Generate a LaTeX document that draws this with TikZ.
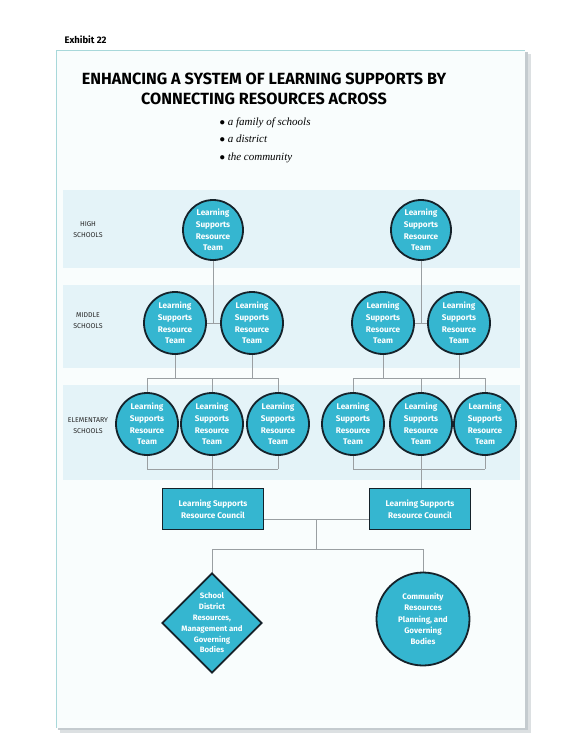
\documentclass[tikz,border=0pt]{standalone}
\usepackage{fontspec}
\setmainfont{Fira Sans}
\newfontfamily\serifit{Liberation Serif}
\usetikzlibrary{shapes.geometric}
\definecolor{teamfill}{HTML}{35B6D0}
\definecolor{bandfill}{HTML}{E4F3F8}
\definecolor{edgecol}{HTML}{15222A}
\definecolor{linkcol}{HTML}{9A9FA2}
\definecolor{framecol}{HTML}{A8D8DA}
\definecolor{shadowcol}{HTML}{C4CBCF}
\tikzset{
  team/.style={circle, draw=edgecol, line width=1.8pt, fill=teamfill, minimum size=60pt, inner sep=0pt, text=white, font=\fontsize{8.2}{11.6}\selectfont\bfseries, align=center},
  council/.style={rectangle, draw=edgecol, line width=1.8pt, fill=teamfill, minimum width=101pt, minimum height=41pt, inner sep=0pt, text=white, font=\fontsize{8.2}{11.6}\selectfont\bfseries, align=center},
  district/.style={diamond, draw=edgecol, line width=1.8pt, fill=teamfill, minimum width=100pt, minimum height=100pt, inner sep=0pt},
  districttext/.style={text=white, font=\fontsize{7.8}{10.8}\selectfont\bfseries, align=center, inner sep=0pt},
  community/.style={circle, draw=edgecol, line width=1.8pt, fill=teamfill, minimum size=93pt, inner sep=0pt, text=white, font=\fontsize{8}{11.4}\selectfont\bfseries, align=center},
  link/.style={draw=linkcol, line width=0.8pt},
  levellabel/.style={font=\fontsize{7}{11}\selectfont, align=center, text=black!85},
  band/.style={fill=bandfill, draw=none}
}
\begin{document}
\begin{tikzpicture}[x=1pt,y=-1pt]
\useasboundingbox (0,0) rectangle (576,756);
\fill[white] (0,0) rectangle (576,756);
% frame and shadow
\fill[shadowcol!60] (60,54) rectangle (531,733);
\fill[shadowcol] (58,52) rectangle (528,730);
\fill[white!97!teamfill] (56,50) rectangle (525,728);
\draw[framecol, line width=0.8pt] (56,728) -- (56,50) -- (525,50);
\node[anchor=west, font=\fontsize{9.5}{10}\selectfont\bfseries] (exh) at (61,40) {Exhibit 22};
% title
\node[font=\fontsize{16.2}{19.5}\selectfont\bfseries, align=center] (title) at (264,89) {ENHANCING A SYSTEM OF LEARNING SUPPORTS BY\\CONNECTING RESOURCES ACROSS};
\node[anchor=west, font=\serifit\itshape\fontsize{11}{17.5}\selectfont, align=left] (bul) at (216,140) {$\bullet$\ a family of schools\\$\bullet$\ a district\\$\bullet$\ the community};
% bands
\fill[band] (63,190) rectangle (520,268);
\fill[band] (63,285) rectangle (520,368);
\fill[band] (63,385) rectangle (520,480);
\node[levellabel] (lh) at (88,230) {HIGH\\SCHOOLS};
\node[levellabel] (lm) at (88,321) {MIDDLE\\SCHOOLS};
\node[levellabel] (le) at (88,426) {ELEMENTARY\\SCHOOLS};
% coordinates for junctions
\coordinate (jHL) at (213,323);
\coordinate (jHR) at (421,323);
\coordinate (eLl) at (147,378); \coordinate (eLr) at (278,378);
\coordinate (eRl) at (353,378); \coordinate (eRr) at (485,378);
\coordinate (bLl) at (147,469); \coordinate (bLr) at (278,469);
\coordinate (bRl) at (353,469); \coordinate (bRr) at (485,469);
\coordinate (mL1b) at (175,378); \coordinate (mL2b) at (252,378);
\coordinate (mR1b) at (383,378); \coordinate (mR2b) at (459,378);
\coordinate (jc) at (316,519);
\coordinate (jb) at (316,549);
\coordinate (jbl) at (212,549);
\coordinate (jbr) at (423,549);
% connectors (drawn first)
\draw[link] (213,230) -- (jHL);
\draw[link] (421,230) -- (jHR);
\draw[link] (175,323) -- (252,323);
\draw[link] (383,323) -- (459,323);
\draw[link] (175,323) -- (mL1b); \draw[link] (252,323) -- (mL2b);
\draw[link] (383,323) -- (mR1b); \draw[link] (459,323) -- (mR2b);
\draw[link] (eLl) -- (eLr); \draw[link] (eRl) -- (eRr);
\draw[link] (eLl) -- (bLl); \draw[link] (212,378) -- (212,469); \draw[link] (eLr) -- (bLr);
\draw[link] (eRl) -- (bRl); \draw[link] (421,378) -- (421,469); \draw[link] (eRr) -- (bRr);
\draw[link] (bLl) -- (bLr); \draw[link] (bRl) -- (bRr);
\draw[link] (212,469) -- (212,509);
\draw[link] (421,469) -- (421,509);
\draw[link] (213,519) -- (420,519);
\draw[link] (jc) -- (jb);
\draw[link] (jbl) -- (jbr);
\draw[link] (jbl) -- (212,600);
\draw[link] (jbr) -- (423,600);
% high
\node[team] (h1) at (213,230) {Learning\\Supports\\Resource\\Team};
\node[team] (h2) at (421,230) {Learning\\Supports\\Resource\\Team};
% middle
\node[team, minimum size=62pt] (m1) at (175,323) {Learning\\Supports\\Resource\\Team};
\node[team, minimum size=62pt] (m2) at (252,323) {Learning\\Supports\\Resource\\Team};
\node[team, minimum size=62pt] (m3) at (383,323) {Learning\\Supports\\Resource\\Team};
\node[team, minimum size=62pt] (m4) at (459,323) {Learning\\Supports\\Resource\\Team};
% elementary
\node[team, minimum size=62pt] (e1) at (147,424) {Learning\\Supports\\Resource\\Team};
\node[team, minimum size=62pt] (e2) at (212,424) {Learning\\Supports\\Resource\\Team};
\node[team, minimum size=62pt] (e3) at (278,424) {Learning\\Supports\\Resource\\Team};
\node[team, minimum size=62pt] (e4) at (353,424) {Learning\\Supports\\Resource\\Team};
\node[team, minimum size=62pt] (e5) at (421,424) {Learning\\Supports\\Resource\\Team};
\node[team, minimum size=62pt] (e6) at (485,424) {Learning\\Supports\\Resource\\Team};
% councils
\node[council] (c1) at (213,509) {Learning Supports\\Resource Council};
\node[council] (c2) at (420,509) {Learning Supports\\Resource Council};
% bottom
\node[district] (d) at (212,623) {};
\node[districttext] (dt) at (d.center) {School\\District\\Resources,\\Management and\\Governing\\Bodies};
\node[community] (cm) at (423,619) {Community\\Resources\\Planning, and\\Governing\\Bodies};
\end{tikzpicture}
\end{document}
